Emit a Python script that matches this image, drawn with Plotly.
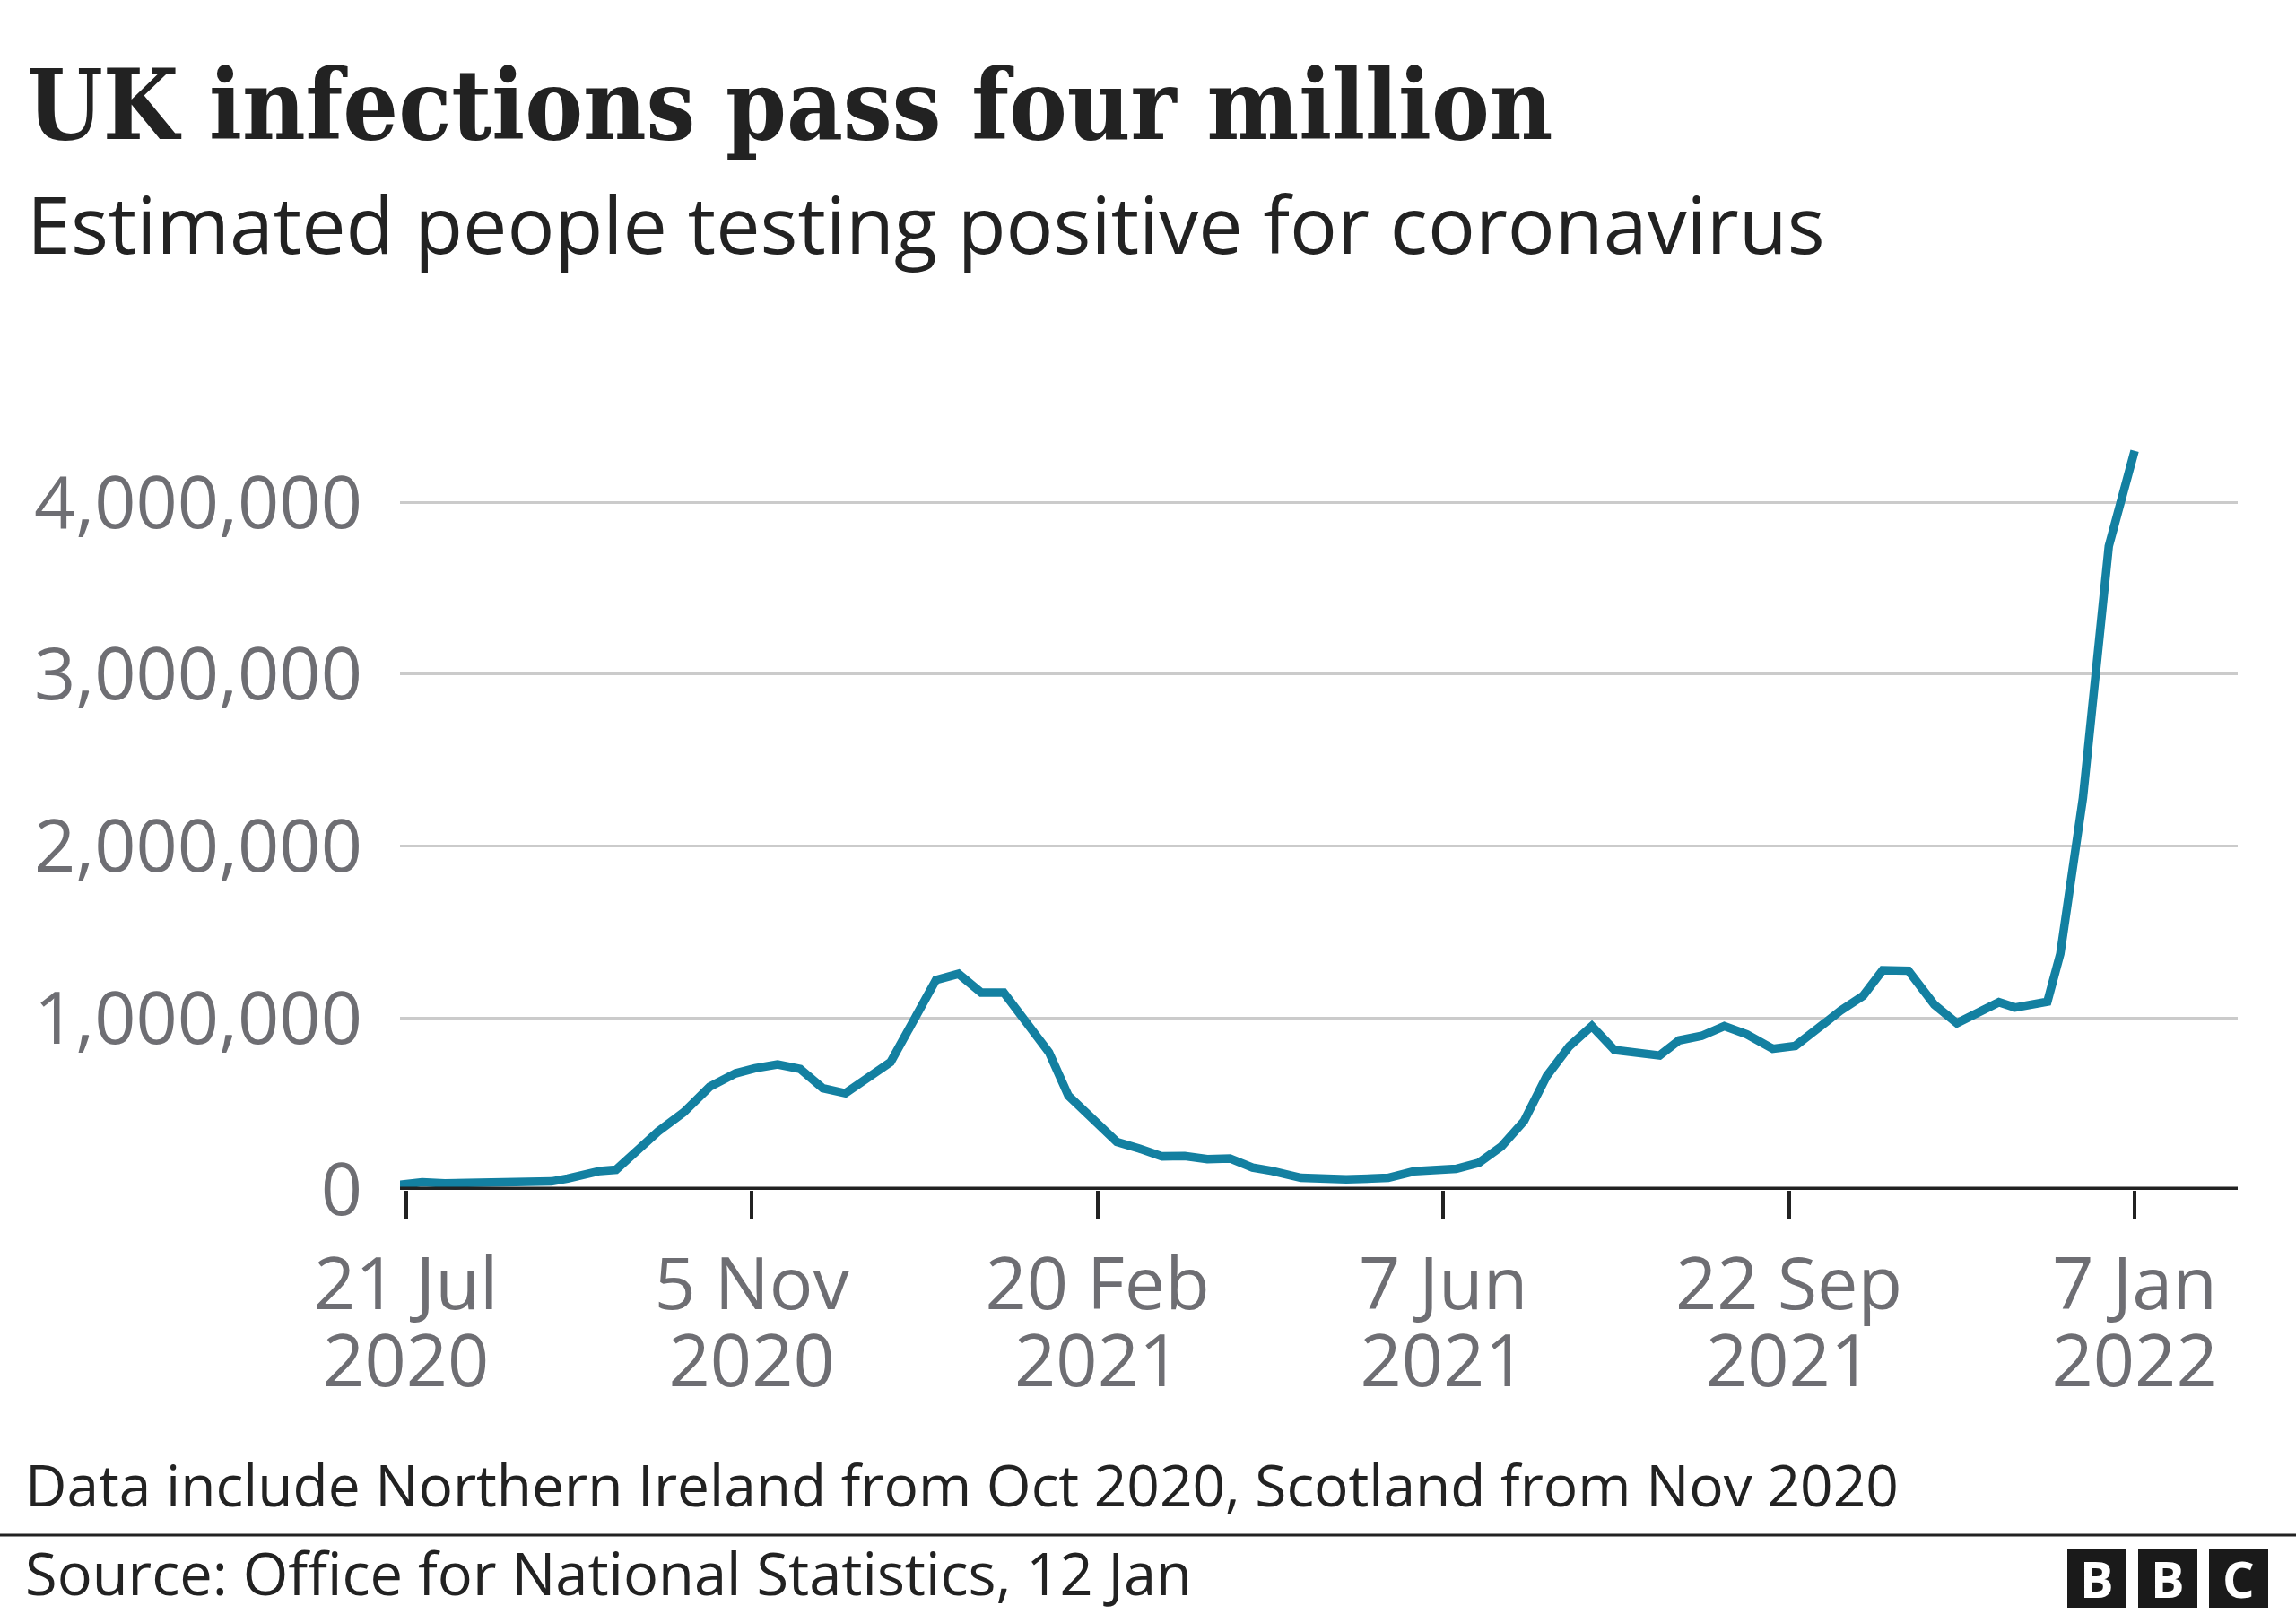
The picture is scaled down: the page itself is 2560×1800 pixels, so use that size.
import plotly.graph_objects as go

# ---------------- data ----------------
dates = [
    "2020-07-19", "2020-07-26", "2020-08-02", "2020-08-08", "2020-08-14", "2020-08-24",
    "2020-09-04", "2020-09-09", "2020-09-19", "2020-09-24", "2020-10-07", "2020-10-15",
    "2020-10-23", "2020-10-31", "2020-11-06", "2020-11-13", "2020-11-20", "2020-11-27",
    "2020-12-04", "2020-12-18", "2021-01-01", "2021-01-08", "2021-01-15", "2021-01-22",
    "2021-02-05", "2021-02-11", "2021-02-26", "2021-03-05", "2021-03-12", "2021-03-19",
    "2021-03-26", "2021-04-02", "2021-04-09", "2021-04-15", "2021-04-24", "2021-05-08",
    "2021-05-21", "2021-05-29", "2021-06-04", "2021-06-11", "2021-06-18", "2021-06-25",
    "2021-07-02", "2021-07-09", "2021-07-16", "2021-07-23", "2021-07-30", "2021-08-06",
    "2021-08-13", "2021-08-19", "2021-08-26", "2021-09-02", "2021-09-09", "2021-09-17",
    "2021-09-24", "2021-10-01", "2021-10-08", "2021-10-15", "2021-10-21", "2021-10-29",
    "2021-11-06", "2021-11-13", "2021-11-20", "2021-11-26", "2021-12-01", "2021-12-11",
    "2021-12-15", "2021-12-18", "2021-12-22", "2021-12-30", "2022-01-07",
]
infections = [
    30000, 44000, 38000, 38000, 37000, 38000,
    49000, 66000, 110000, 117000, 339000, 452000,
    600000, 678000, 708000, 730000, 704000, 592000,
    562000, 744000, 1221000, 1257000, 1148000, 1148000,
    800000, 548000, 279000, 240000, 195000, 197000,
    179000, 183000, 130000, 110000, 70000, 61000,
    70000, 108000, 117000, 122000, 157000, 252000,
    400000, 661000, 835000, 953000, 814000, 803000,
    782000, 870000, 896000, 953000, 905000, 821000,
    838000, 940000, 1043000, 1130000, 1278000, 1275000,
    1078000, 970000, 1040000, 1092000, 1061000, 1095000,
    1374000, 1750000, 2280000, 3745000, 4300000,
]

tick_dates = ["2020-07-21", "2020-11-05", "2021-02-20", "2021-06-07", "2021-09-22", "2022-01-07"]
tick_day_labels = ["21 Jul", "5 Nov", "20 Feb", "7 Jun", "22 Sep", "7 Jan"]
tick_year_labels = ["2020", "2020", "2021", "2021", "2021", "2022"]
y_tick_values = [0, 1000000, 2000000, 3000000, 4000000]

title_text = "UK infections pass four million"
subtitle_text = "Estimated people testing positive for coronavirus"
note_text = "Data include Northern Ireland from Oct 2020, Scotland from Nov 2020"
source_text = "Source: Office for National Statistics, 12 Jan"

# ---------------- layout geometry ----------------
FIG_W, FIG_H = 2560, 1800
PL, PR, PT, PB = 446, 2495, 483, 1327
PW, PH = PR - PL, PB - PT


def xp(px):
    return (px - PL) / PW


def yp(py):
    return (PB - py) / PH


DARK = "#222222"
GREY = "#6E6E73"
TEAL = "#1380A1"
SANS = "Open Sans"

fig = go.Figure()
fig.add_trace(go.Scatter(
    x=dates, y=infections, mode="lines",
    line=dict(color=TEAL, width=9.5),
    hoverinfo="skip", showlegend=False,
))
# invisible trace so the year-label axis is drawn
fig.add_trace(go.Scatter(
    x=[dates[0]], y=[0], xaxis="x2", mode="markers",
    marker=dict(opacity=0), hoverinfo="skip", showlegend=False,
))

x_range = ["2020-07-19 03:24", "2022-02-07 21:36"]

fig.update_layout(
    width=FIG_W, height=FIG_H,
    margin=dict(l=PL, r=FIG_W - PR, t=PT, b=FIG_H - PB, pad=0),
    paper_bgcolor="white", plot_bgcolor="white",
    font=dict(family=SANS, color=DARK),
    showlegend=False,
    hovermode=False,
    xaxis=dict(
        type="date", range=x_range,
        tickmode="array", tickvals=tick_dates, ticktext=tick_day_labels,
        ticks="outside", ticklen=32, tickwidth=3.5, tickcolor=DARK,
        ticklabelstandoff=3,
        showgrid=False, zeroline=False, showline=False,
        tickfont=dict(family=SANS, size=81, color=GREY),
    ),
    xaxis2=dict(
        type="date", range=x_range, overlaying="x", anchor="y", side="bottom",
        tickmode="array", tickvals=tick_dates, ticktext=tick_year_labels,
        ticks="outside", ticklen=32, tickwidth=0.1, tickcolor="rgba(0,0,0,0)",
        ticklabelstandoff=89,
        showgrid=False, zeroline=False, showline=False,
        tickfont=dict(family=SANS, size=81, color=GREY),
    ),
    yaxis=dict(
        range=[0, 4403000],
        tickmode="array", tickvals=y_tick_values, tickformat=",d",
        ticks="", ticklabelstandoff=41,
        showgrid=True, gridcolor="#CBCBCB", gridwidth=3,
        zeroline=False, showline=False,
        tickfont=dict(family=SANS, size=81, color=GREY),
    ),
)

# baseline at zero
fig.add_shape(type="line", xref="paper", yref="y", x0=0, x1=1, y0=0, y1=0,
              line=dict(color=DARK, width=7), layer="above")
# separator line above the source
fig.add_shape(type="line", xref="paper", yref="paper",
              x0=xp(0), x1=xp(FIG_W), y0=yp(1712), y1=yp(1712),
              line=dict(color=DARK, width=3))

annotations = [
    dict(text="<b>" + title_text + "</b>", x=xp(28), y=yp(117),
         font=dict(family="DejaVu Serif Condensed, DejaVu Serif", size=108, color=DARK)),
    dict(text=subtitle_text, x=xp(28), y=yp(249),
         font=dict(family=SANS, size=88, color=DARK)),
    dict(text=note_text, x=xp(26), y=yp(1655),
         font=dict(family=SANS, size=64, color=DARK)),
    dict(text=source_text, x=xp(26), y=yp(1754),
         font=dict(family=SANS, size=65, color=DARK)),
]
for a in annotations:
    fig.add_annotation(xref="paper", yref="paper", xanchor="left", yanchor="middle",
                       showarrow=False, **a)

# BBC logo blocks
logo_letters = ["B", "B", "C"]
logo_left = [2305, 2384, 2463]
for letter, lx in zip(logo_letters, logo_left):
    fig.add_shape(type="rect", xref="paper", yref="paper",
                  x0=xp(lx), x1=xp(lx + 66), y0=yp(1793), y1=yp(1728),
                  fillcolor="#1A1A1A", line=dict(width=0))
    fig.add_annotation(xref="paper", yref="paper", x=xp(lx + 33), y=yp(1760),
                       xanchor="center", yanchor="middle", showarrow=False,
                       text="<b>" + letter + "</b>",
                       font=dict(family=SANS, size=56, color="white"))

fig.write_html("out.html", config={"displayModeBar": False},
               post_script="document.body.style.margin='0';document.body.style.overflow='hidden';")
